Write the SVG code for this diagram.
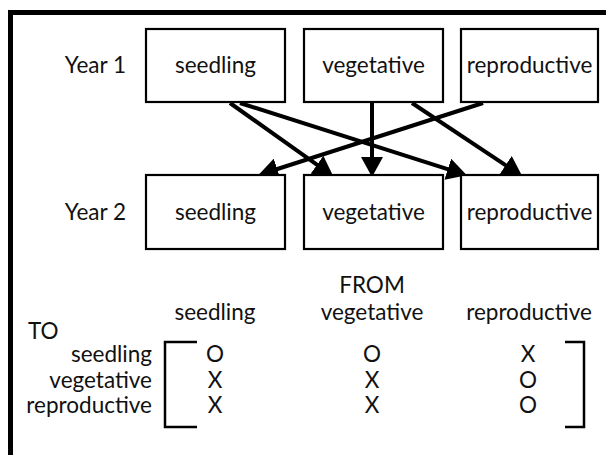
<svg xmlns="http://www.w3.org/2000/svg" width="606" height="455" viewBox="0 0 606 455">
<defs>
<style>
text{font-family:"Lato","Open Sans","Liberation Sans",sans-serif;font-size:22.5px;fill:#111}
.c{text-anchor:middle}
.r{text-anchor:end}
.box{fill:#fff;stroke:#000;stroke-width:2.2}
.conn{stroke:#000;stroke-width:4;fill:none;marker-end:url(#ah)}
.br{fill:none;stroke:#000;stroke-width:2.5}
</style>
<marker id="ah" markerUnits="userSpaceOnUse" markerWidth="20" markerHeight="22" viewBox="0 0 20 22" refX="8" refY="11" orient="auto">
<path d="M0,0 L20,11 L0,22 z" fill="#000"/>
</marker>
</defs>
<rect x="0" y="0" width="606" height="455" fill="#fff"/>
<g id="frame">
<rect x="8" y="10" width="598" height="5" fill="#000"/>
<rect x="8" y="10" width="5" height="445" fill="#000"/>
</g>
<g id="connectors">
<line class="conn" x1="230" y1="103" x2="323.5" y2="169.4"/>
<line class="conn" x1="240" y1="103" x2="455.4" y2="171.6"/>
<line class="conn" x1="372" y1="103" x2="372" y2="165"/>
<line class="conn" x1="412" y1="103" x2="512.3" y2="169.6"/>
<line class="conn" x1="483" y1="103" x2="269.6" y2="171.5"/>
</g>
<text x="126" y="73" class="r">Year 1</text>
<text x="126" y="220" class="r">Year 2</text>
<g id="y1-seedling"><rect class="box" x="146" y="29" width="139" height="73"/><text class="c" x="215.5" y="73">seedling</text></g>
<g id="y1-vegetative"><rect class="box" x="304" y="29" width="139" height="73"/><text class="c" x="373.5" y="73">vegetative</text></g>
<g id="y1-reproductive"><rect class="box" x="461" y="29" width="137" height="73"/><text class="c" x="529.5" y="73">reproductive</text></g>
<g id="y2-seedling"><rect class="box" x="146" y="175" width="139" height="74"/><text class="c" x="215.5" y="220">seedling</text></g>
<g id="y2-vegetative"><rect class="box" x="304" y="175" width="139" height="74"/><text class="c" x="373.5" y="220">vegetative</text></g>
<g id="y2-reproductive"><rect class="box" x="461" y="175" width="137" height="74"/><text class="c" x="529.5" y="220">reproductive</text></g>
<g id="matrix">
<text class="c" x="372" y="293">FROM</text>
<text class="c" x="215" y="320">seedling</text>
<text class="c" x="372" y="320">vegetative</text>
<text class="c" x="529" y="320">reproductive</text>
<text x="28" y="339">TO</text>
<text class="r" x="152" y="362">seedling</text>
<text class="r" x="152" y="388">vegetative</text>
<text class="r" x="152" y="413">reproductive</text>
<path class="br" d="M197,342 H165 V427 H197"/>
<path class="br" d="M565,342 H584 V427 H565"/>
<text class="c" x="215" y="362">O</text>
<text class="c" x="372" y="362">O</text>
<text class="c" x="528" y="362">X</text>
<text class="c" x="215" y="388">X</text>
<text class="c" x="372" y="388">X</text>
<text class="c" x="528" y="388">O</text>
<text class="c" x="215" y="413">X</text>
<text class="c" x="372" y="413">X</text>
<text class="c" x="528" y="413">O</text>
</g>
</svg>
